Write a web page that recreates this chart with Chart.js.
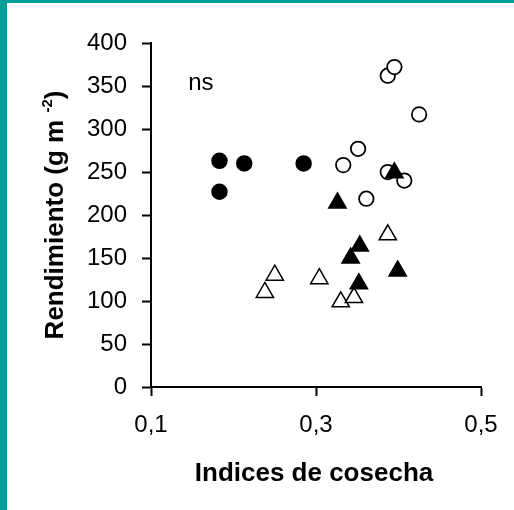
<!DOCTYPE html>
<html>
<head>
<meta charset="utf-8">
<script src="https://cdn.jsdelivr.net/npm/chart.js@4/dist/chart.umd.min.js"></script>
<style>
  html, body { margin: 0; padding: 0; background: #fff; }
  #wrap { width: 514px; height: 510px; position: relative; }
</style>
</head>
<body>
<div id="wrap"><canvas id="scatterChart"></canvas></div>
<script>
const FONT = '"Liberation Sans", Arial, sans-serif'

// filled circles
const filledCircleX = [0.183, 0.213, 0.285, 0.183]
const filledCircleY = [263, 260, 260, 227]
// open circles
const openCircleX = [0.387, 0.395, 0.425, 0.351, 0.333, 0.387, 0.407, 0.361]
const openCircleY = [362, 372, 317, 277, 258, 250, 240, 219]
// filled triangles
const filledTriX = [0.326, 0.342, 0.353, 0.352, 0.395, 0.399]
const filledTriY = [214, 150, 164, 120, 249, 135]
// open triangles
const openTriX = [0.238, 0.250, 0.304, 0.330, 0.346, 0.387]
const openTriY = [110, 130, 126, 99, 104, 177]

const xTicks = [0.1, 0.3, 0.5]
const xTickLabels = ['0,1', '0,3', '0,5']
const yTicks = [0, 50, 100, 150, 200, 250, 300, 350, 400]
const yTickLabels = ['0', '50', '100', '150', '200', '250', '300', '350', '400']

const xTitle = 'Indices de cosecha'
const yTitle = ['Rendimiento (g m ', '-2', ')']
const note = 'ns'

function pts(xs, ys) {
  return xs.map((x, i) => ({ x: x, y: ys[i] }))
}

// teal frame, titles and the "ns" note
const decorations = {
  id: 'decorations',
  beforeDraw(chart) {
    const ctx = chart.ctx
    ctx.save()
    ctx.fillStyle = '#fff'
    ctx.fillRect(0, 0, chart.width, chart.height)
    ctx.fillStyle = '#009e9a'
    ctx.fillRect(0, 0, 7, chart.height)
    ctx.fillRect(0, 0, chart.width, 3)
    ctx.restore()
  },
  afterDraw(chart) {
    const ctx = chart.ctx
    const area = chart.chartArea
    const xs = chart.scales.x
    const ys = chart.scales.y
    ctx.save()
    ctx.fillStyle = '#000'

    // x title
    ctx.font = 'bold 26px ' + FONT
    ctx.textAlign = 'center'
    ctx.textBaseline = 'alphabetic'
    ctx.fillText(xTitle, (area.left + area.right) / 2 - 2, 481)

    // y title with superscript
    const big = 'bold 26px ' + FONT
    const small = 'bold 15px ' + FONT
    ctx.font = big
    const w1 = ctx.measureText(yTitle[0]).width
    const w3 = ctx.measureText(yTitle[2]).width
    ctx.font = small
    const w2 = ctx.measureText(yTitle[1]).width
    const total = w1 + w2 + w3
    ctx.translate(63, (area.top + area.bottom) / 2)
    ctx.rotate(-Math.PI / 2)
    ctx.textAlign = 'left'
    let cx = -total / 2
    ctx.font = big
    ctx.fillText(yTitle[0], cx, 0)
    cx += w1
    ctx.font = small
    ctx.fillText(yTitle[1], cx, -11)
    cx += w2
    ctx.font = big
    ctx.fillText(yTitle[2], cx, 0)
    ctx.setTransform(1, 0, 0, 1, 0, 0)

    // ns
    ctx.font = '24px ' + FONT
    ctx.textAlign = 'left'
    ctx.fillText(note, xs.getPixelForValue(0.145), ys.getPixelForValue(345))
    ctx.restore()
  }
}

document.addEventListener('DOMContentLoaded', function() {
  const canvas = document.getElementById('scatterChart')
  canvas.width = 514
  canvas.height = 510
  const scatter = new Chart(canvas.getContext('2d'), {
    type: 'scatter',
    data: {
      datasets: [
        {
          data: pts(openTriX, openTriY),
          pointStyle: 'triangle',
          pointRadius: 10,
          backgroundColor: '#fff',
          borderColor: '#000',
          borderWidth: 1.5,
          order: 1
        },
        {
          data: pts(filledTriX, filledTriY),
          pointStyle: 'triangle',
          pointRadius: 10,
          backgroundColor: '#000',
          borderColor: '#000',
          borderWidth: 1.5,
          order: 0
        },
        {
          data: pts(openCircleX, openCircleY),
          pointStyle: 'circle',
          pointRadius: 7.25,
          backgroundColor: '#fff',
          borderColor: '#000',
          borderWidth: 1.75,
          order: 2
        },
        {
          data: pts(filledCircleX, filledCircleY),
          pointStyle: 'circle',
          pointRadius: 7.5,
          backgroundColor: '#000',
          borderColor: '#000',
          borderWidth: 1.5,
          order: 2
        }
      ]
    },
    options: {
      responsive: false,
      animation: false,
      events: [],
      layout: { padding: { left: 7, top: 43, right: 33, bottom: 0 } },
      plugins: { legend: { display: false }, tooltip: { enabled: false } },
      scales: {
        x: {
          type: 'linear',
          min: 0.1,
          max: 0.5,
          afterBuildTicks: s => { s.ticks = xTicks.map(v => ({ value: v })) },
          afterFit: s => { s.height = 123 },
          ticks: {
            callback: (v, i) => xTickLabels[i],
            font: { family: FONT, size: 24 },
            color: '#000',
            padding: 15,
            maxRotation: 0,
            autoSkip: false
          },
          grid: { drawOnChartArea: false, tickLength: 9, tickWidth: 2, tickColor: '#000' },
          border: { color: '#000', width: 2 }
        },
        y: {
          min: 0,
          max: 400,
          afterBuildTicks: s => { s.ticks = yTicks.map(v => ({ value: v })) },
          afterFit: s => { s.width = 144 },
          ticks: {
            callback: (v, i) => yTickLabels[i],
            font: { family: FONT, size: 24 },
            color: '#000',
            padding: 15,
            autoSkip: false
          },
          grid: { drawOnChartArea: false, tickLength: 9, tickWidth: 2, tickColor: '#000' },
          border: { color: '#000', width: 2 }
        }
      }
    },
    plugins: [decorations]
  })
})
</script>
</body>
</html>
